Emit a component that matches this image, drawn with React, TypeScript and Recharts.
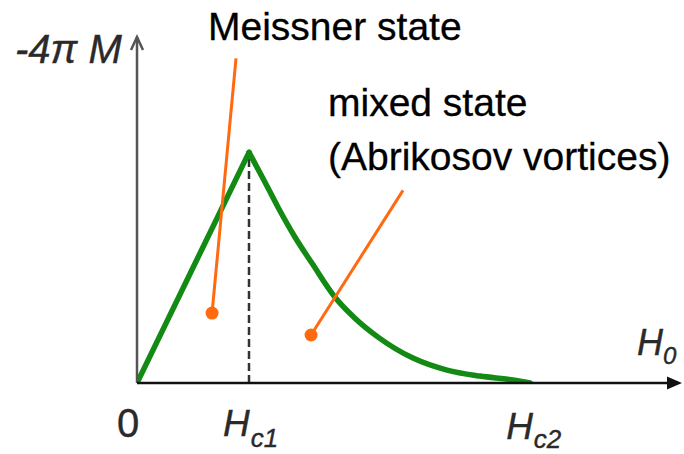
import React from "react";
import { LineChart, Line, XAxis, YAxis, ReferenceLine, ReferenceDot } from "recharts";

// Field H0 in units of Hc1, magnetization -4πM in units of its peak value
const riseH = [0, 1];
const riseM = [0, 1];
const decayH = [1, 1.143, 1.259, 1.411, 1.563, 1.768, 1.946, 2.152, 2.464, 2.768, 3.063, 3.357, 3.51];
const decayM = [1, 0.87, 0.762, 0.632, 0.519, 0.372, 0.281, 0.199, 0.108, 0.056, 0.03, 0.013, 0];

const xTicks = [0, 1, 3.51];
const xTickMain = ["0", "H", "H"];
const xTickSub = ["", "c1", "c2"];

const xMax = 4.866;
const yMax = 1.5;
const hc1 = 1;
const peakM = 1;

// callout pointers: [dot, end]
const meissnerPointer = [
  { x: 0.67, y: 0.303 },
  { x: 0.884, y: 1.407 },
];
const mixedPointer = [
  { x: 1.554, y: 0.208 },
  { x: 2.375, y: 0.835 },
];

const riseData = riseH.map((h, i) => ({ h, m: riseM[i] }));
const decayData = decayH.map((h, i) => ({ h, m: decayM[i] }));

const FONT = "'Liberation Sans', Arial, Helvetica, sans-serif";
const GREEN = "#138a13";
const ORANGE = "#ff6a10";
const INK = "#2a2a2a";

const XTick = (props: any) => {
  const { x, y, payload, index } = props;
  const i = xTicks.indexOf(payload.value);
  const idx = i >= 0 ? i : index;
  const main = xTickMain[idx];
  const sub = xTickSub[idx];
  if (!sub) {
    return (
      <text x={x - 9} y={y + 46} textAnchor="middle" fontFamily={FONT} fontSize={40} fill={INK} stroke={INK} strokeWidth={0.4}>
        {main}
      </text>
    );
  }
  const dx = idx === 1 ? -26 : -24;
  const dy = idx === 1 ? 45 : 48;
  const subDy = idx === 1 ? 11 : 9;
  return (
    <text x={x + dx} y={y + dy} fontFamily={FONT} fontSize={37} fontStyle="italic" fill={INK} stroke={INK} strokeWidth={0.4}>
      {main}
      <tspan fontSize={26} dy={subDy} dx={1}>{sub}</tspan>
    </text>
  );
};

const XAxisArrow = (p: any) => {
  const { x1, y1, x2, y2 } = p;
  return (
    <g>
      <line x1={x1} y1={y1} x2={x2 - 10} y2={y2} stroke="#111" strokeWidth={2.5} />
      <polygon points={`${x2},${y2} ${x2 - 15},${y2 - 6.5} ${x2 - 15},${y2 + 6.5}`} fill="#111" />
    </g>
  );
};

const YAxisArrow = (p: any) => {
  const { x1, y1, x2, y2 } = p;
  return (
    <g fill="none" stroke="#555" strokeWidth={2.5}>
      <line x1={x1} y1={y1} x2={x2} y2={y2} />
      <polyline points={`${x2 - 6},${y2 + 13} ${x2},${y2} ${x2 + 6},${y2 + 13}`} />
    </g>
  );
};

export default function App() {
  return (
    <div style={{ position: "absolute", left: 0, top: 0, width: 684, height: 454, background: "#fff" }}>
      <LineChart width={684} height={454} margin={{ top: 37, right: 2, bottom: 0, left: 137 }}>
        <XAxis
          dataKey="h"
          type="number"
          domain={[0, xMax]}
          ticks={xTicks}
          tick={<XTick />}
          axisLine={false}
          tickLine={false}
          height={71}
          allowDataOverflow
          interval={0}
        />
        <YAxis type="number" domain={[0, yMax]} hide allowDataOverflow />
        <ReferenceLine
          segment={[{ x: hc1, y: 0 }, { x: hc1, y: peakM }]}
          stroke="#333"
          strokeWidth={2.5}
          strokeDasharray="8 4"
          ifOverflow="visible"
        />
        <Line
          data={riseData}
          dataKey="m"
          type="linear"
          stroke={GREEN}
          strokeWidth={5.5}
          dot={false}
          isAnimationActive={false}
          strokeLinecap="round"
        />
        <Line
          data={decayData}
          dataKey="m"
          type="monotone"
          stroke={GREEN}
          strokeWidth={5.5}
          dot={false}
          isAnimationActive={false}
          strokeLinecap="round"
        />
        <ReferenceLine
          segment={[{ x: 0, y: 0 }, { x: 0, y: yMax }]}
          shape={<YAxisArrow />}
          ifOverflow="visible"
        />
        <ReferenceLine
          segment={[{ x: 0, y: 0 }, { x: xMax, y: 0 }]}
          shape={<XAxisArrow />}
          ifOverflow="visible"
        />
        <ReferenceLine segment={meissnerPointer} stroke={ORANGE} strokeWidth={3} ifOverflow="visible" />
        <ReferenceLine segment={mixedPointer} stroke={ORANGE} strokeWidth={3} ifOverflow="visible" />
        <ReferenceDot x={meissnerPointer[0].x} y={meissnerPointer[0].y} r={6.5} fill={ORANGE} stroke="none" ifOverflow="visible" />
        <ReferenceDot x={mixedPointer[0].x} y={mixedPointer[0].y} r={6.5} fill={ORANGE} stroke="none" ifOverflow="visible" />
      </LineChart>
      <svg width={684} height={454} style={{ position: "absolute", left: 0, top: 0, pointerEvents: "none" }}>
        <text x={15} y={63} fontFamily={FONT} fontSize={40} fontStyle="italic" fill={INK} stroke={INK} strokeWidth={0.4}>
          -4π M
        </text>
        <text x={208} y={40} fontFamily={FONT} fontSize={39} fill="#000" stroke="#000" strokeWidth={0.3}>
          Meissner state
        </text>
        <text x={328} y={116} fontFamily={FONT} fontSize={39} fill="#000" stroke="#000" strokeWidth={0.3}>
          mixed state
        </text>
        <text x={328} y={170} fontFamily={FONT} fontSize={39} fill="#000" stroke="#000" strokeWidth={0.3}>
          (Abrikosov vortices)
        </text>
        <text x={637} y={355} fontFamily={FONT} fontSize={36} fontStyle="italic" fill={INK} stroke={INK} strokeWidth={0.4}>
          H
          <tspan fontSize={24} dy={9} dx={0}>0</tspan>
        </text>
      </svg>
    </div>
  );
}
